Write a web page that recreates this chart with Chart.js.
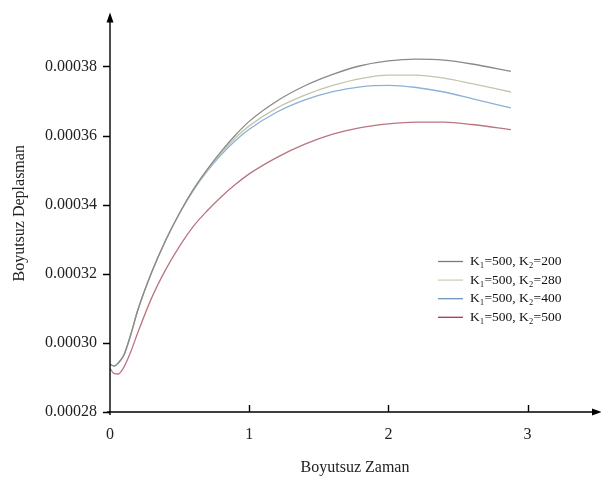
<!DOCTYPE html>
<html>
<head>
<meta charset="utf-8">
<title>Boyutsuz Deplasman</title>
<script src="https://cdn.jsdelivr.net/npm/chart.js@4.4.1/dist/chart.umd.min.js"></script>
<style>
  html, body { margin: 0; padding: 0; background: #fff; }
  #wrap { width: 601px; height: 478px; }
</style>
</head>
<body>
<div id="wrap"><canvas id="dispChart" width="601" height="478"></canvas></div>
<script>
  /* ── data ── */
  const times = [0, 0.03, 0.06, 0.1, 0.15, 0.2, 0.3, 0.4, 0.5, 0.6, 0.7, 0.8, 0.9, 1.0,
                 1.2, 1.4, 1.6, 1.8, 2.0, 2.2, 2.4, 2.6, 2.88];

  const k200 = [0.0002938, 0.0002933, 0.0002942, 0.0002965, 0.0003025, 0.0003095, 0.0003205,
                0.0003297, 0.0003376, 0.0003445, 0.0003503, 0.0003555, 0.0003601, 0.0003641,
                0.0003700, 0.0003744, 0.0003777, 0.0003802, 0.0003816, 0.0003821, 0.0003818,
                0.0003807, 0.0003786];
  const k280 = [0.0002938, 0.0002933, 0.0002942, 0.0002965, 0.0003025, 0.0003095, 0.0003205,
                0.0003297, 0.0003376, 0.0003444, 0.0003501, 0.0003550, 0.0003593, 0.0003628,
                0.0003680, 0.0003717, 0.0003745, 0.0003765, 0.0003775, 0.0003775, 0.0003766,
                0.0003750, 0.0003726];
  const k400 = [0.0002938, 0.0002933, 0.0002942, 0.0002965, 0.0003025, 0.0003095, 0.0003205,
                0.0003297, 0.0003375, 0.0003442, 0.0003498, 0.0003545, 0.0003585, 0.0003618,
                0.0003668, 0.0003703, 0.0003727, 0.0003741, 0.0003745, 0.0003739, 0.0003726,
                0.0003707, 0.0003680];
  const k500 = [0.0002926, 0.0002911, 0.0002910, 0.0002930, 0.0002975, 0.0003030, 0.0003131,
                0.0003212, 0.0003280, 0.0003338, 0.0003383, 0.0003423, 0.0003458, 0.0003489,
                0.0003537, 0.0003575, 0.0003604, 0.0003623, 0.0003634, 0.0003639, 0.0003639,
                0.0003632, 0.0003617];

  const seriesLabels = ["K\u2081=500, K\u2082=200", "K\u2081=500, K\u2082=280",
                        "K\u2081=500, K\u2082=400", "K\u2081=500, K\u2082=500"];
  const seriesColors = ["#8a8a8a", "#c3c6a8", "#8db0d8", "#b97580"];
  const legendColors = ["#7a7a7a", "#cdd1b4", "#6f93c0", "#a8364e"];

  const xTicks = [0, 1, 2, 3];
  const yTicks = [0.00028, 0.00030, 0.00032, 0.00034, 0.00036, 0.00038];

  const SERIF = "'Liberation Serif', 'DejaVu Serif', serif";

  const toPoints = (vals) => vals.map((v, i) => ({ x: times[i], y: v }));

  /* ── axes, arrows, inward ticks, legend ── */
  const axesPlugin = {
    id: "axesDecor",
    afterDraw(chart) {
      const { ctx, chartArea: a, scales: { x, y } } = chart;
      ctx.save();
      ctx.strokeStyle = "#000";
      ctx.fillStyle   = "#000";
      ctx.lineWidth   = 1.4;

      ctx.beginPath();
      ctx.moveTo(a.left, a.bottom + 3);
      ctx.lineTo(a.left, a.top + 4);
      ctx.moveTo(a.left - 3, a.bottom);
      ctx.lineTo(a.right - 4, a.bottom);

      // y ticks point left, x ticks point up
      yTicks.forEach((v) => {
        const py = Math.round(y.getPixelForValue(v)) + 0.5;
        ctx.moveTo(a.left - 7, py);
        ctx.lineTo(a.left, py);
      });
      xTicks.forEach((v) => {
        if (v === 0) return;
        const px = Math.round(x.getPixelForValue(v)) + 0.5;
        ctx.moveTo(px, a.bottom);
        ctx.lineTo(px, a.bottom - 7);
      });
      ctx.stroke();

      // arrow heads
      ctx.beginPath();
      ctx.moveTo(a.left, a.top - 2);
      ctx.lineTo(a.left - 3.5, a.top + 8);
      ctx.lineTo(a.left + 3.5, a.top + 8);
      ctx.closePath();
      ctx.moveTo(a.right + 2, a.bottom);
      ctx.lineTo(a.right - 8, a.bottom - 3.5);
      ctx.lineTo(a.right - 8, a.bottom + 3.5);
      ctx.closePath();
      ctx.fill();

      // legend
      ctx.font = "13.5px " + SERIF;
      ctx.textBaseline = "middle";
      ctx.lineWidth = 1.3;
      chart.data.datasets.forEach((ds, i) => {
        const ly = 261.5 + i * 18.6;
        ctx.strokeStyle = legendColors[i];
        ctx.beginPath();
        ctx.moveTo(438, ly);
        ctx.lineTo(463, ly);
        ctx.stroke();
        ctx.fillStyle = "#111";
        ctx.fillText(ds.label, 470, ly);
      });
      ctx.restore();
    },
  };

  new Chart(document.getElementById("dispChart"), {
    type: "line",
    data: {
      datasets: [k200, k280, k400, k500].map((vals, i) => ({
        label: seriesLabels[i],
        data: toPoints(vals),
        borderColor: seriesColors[i],
        borderWidth: 1.3,
        pointRadius: 0,
        tension: 0.4,
        cubicInterpolationMode: "monotone",
        fill: false,
      })),
    },
    options: {
      responsive: false,
      animation: false,
      events: [],
      layout: { padding: { top: 0, right: 1, left: 0, bottom: 0 } },
      plugins: { legend: { display: false }, tooltip: { enabled: false } },
      scales: {
        x: {
          type: "linear",
          min: 0,
          max: 3.52,
          grid: { display: false },
          border: { display: false },
          afterBuildTicks: (s) => { s.ticks = xTicks.map((v) => ({ value: v })); },
          afterFit: (s) => { s.height = 66; },
          ticks: {
            padding: 5,
            color: "#222",
            font: { family: SERIF, size: 16 },
          },
          title: {
            display: true,
            text: "Boyutsuz Zaman",
            color: "#222",
            font: { family: SERIF, size: 16 },
            padding: { top: 0, bottom: 1 },
          },
        },
        y: {
          min: 0.00028,
          max: 0.000395,
          grid: { display: false },
          border: { display: false },
          afterBuildTicks: (s) => { s.ticks = yTicks.map((v) => ({ value: v })); },
          afterFit: (s) => { s.width = 110; },
          ticks: {
            padding: 5,
            color: "#222",
            font: { family: SERIF, size: 16 },
            callback: (v) => Number(v).toFixed(5),
          },
          title: {
            display: true,
            text: "Boyutsuz Deplasman",
            color: "#222",
            font: { family: SERIF, size: 16 },
            padding: { top: 10, bottom: 0 },
          },
        },
      },
    },
    plugins: [axesPlugin],
  });
</script>
</body>
</html>
